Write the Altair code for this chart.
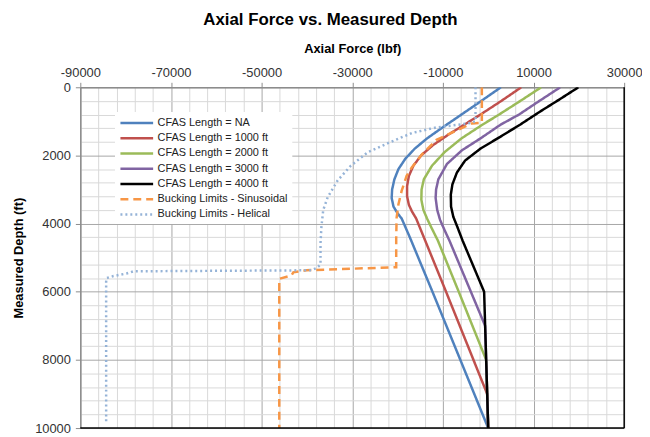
import altair as alt
import pandas as pd

SERIES = ["CFAS Length = NA", "CFAS Length = 1000 ft", "CFAS Length = 2000 ft",
          "CFAS Length = 3000 ft", "CFAS Length = 4000 ft",
          "Bucking Limits - Sinusoidal", "Bucking Limits - Helical"]
COLORS = ["#4F81BD", "#C0504D", "#9BBB59", "#8064A2", "#000000", "#F79646", "#95B3D7"]
DASHES = [[1, 0], [1, 0], [1, 0], [1, 0], [1, 0], [8, 5], [2, 3]]

# CFAS Length = NA
na_depth = [0, 500, 900, 1200, 1500, 1800, 2100, 2400, 2700, 3000, 3250, 3500, 3700, 3850, 4400, 6000, 8000, 10000]
na_force = [2800, -2600, -7000, -10300, -13500, -16200, -18300, -19800, -20700, -21200, -21300, -20900, -20000, -19100, -17300, -12300, -6150, 0]
# CFAS Length = 1000 ft
c1_depth = [0, 400, 800, 1100, 1400, 1700, 2000, 2300, 2600, 2900, 3200, 3450, 3650, 3850, 4500, 6000, 9000, 10000]
c1_force = [7300, 2900, -1700, -5300, -8900, -12200, -14800, -16500, -17500, -17900, -17900, -17500, -16800, -15900, -13900, -9300, -225, 0]
# CFAS Length = 2000 ft
c2_depth = [0, 400, 800, 1100, 1500, 1900, 2300, 2700, 3000, 3300, 3600, 3850, 4100, 4500, 6000, 8000, 10000]
c2_force = [11700, 7100, 2400, -1300, -5900, -9600, -12400, -14200, -14700, -14750, -14300, -13500, -12600, -11100, -6500, -450, 0]
# CFAS Length = 3000 ft
c3_depth = [0, 400, 800, 1100, 1500, 1850, 2250, 2700, 3000, 3250, 3600, 3900, 4200, 4500, 7000, 10000]
c3_force = [15900, 11300, 6800, 2700, -1700, -5800, -9100, -11000, -11500, -11600, -11250, -10600, -9600, -8550, -675, 0]
# CFAS Length = 4000 ft
c4_depth = [0, 350, 700, 1100, 1450, 1800, 2150, 2500, 2850, 3150, 3500, 3800, 4100, 4500, 6000, 10000]
c4_force = [19900, 15800, 11600, 7000, 2700, -1700, -5100, -6900, -7900, -8250, -8200, -7700, -6800, -5650, -900, 0]
# Bucking Limits - Sinusoidal
sin_depth = [0, 1040, 1060, 1250, 1540, 1980, 2360, 2600, 3040, 3430, 3820, 4400, 5280, 5370, 5430, 5520, 5620, 10000]
sin_force = [-1400, -1400, -3600, -6700, -11400, -14700, -16900, -18000, -19100, -19800, -20200, -20300, -20300, -40100, -43000, -43400, -46100, -46100]
# Bucking Limits - Helical
hel_depth = [0, 1000, 1050, 1090, 1180, 1340, 1620, 1910, 2300, 2730, 3220, 3600, 4090, 4570, 5200, 5300, 5370, 5400, 5465, 5540, 5600, 5700, 9850]
hel_force = [-2800, -2800, -4000, -6000, -11500, -16800, -21800, -26600, -30300, -33200, -35400, -36400, -36800, -37000, -37000, -37800, -39000, -78300, -79800, -82700, -84200, -84300, -84300]

X_MIN, X_MAX = -90000, 30000
Y_MIN, Y_MAX = 0, 10000
X_TICKS = list(range(X_MIN, X_MAX + 1, 4000))
Y_TICKS = list(range(Y_MIN, Y_MAX + 1, 400))

series_data = [
    (SERIES[0], na_depth, na_force),
    (SERIES[1], c1_depth, c1_force),
    (SERIES[2], c2_depth, c2_force),
    (SERIES[3], c3_depth, c3_force),
    (SERIES[4], c4_depth, c4_force),
    (SERIES[5], sin_depth, sin_force),
    (SERIES[6], hel_depth, hel_force),
]
rows = []
for name, ds, fs in series_data:
    for i, (d, f) in enumerate(zip(ds, fs)):
        rows.append({"series": name, "depth": d, "force": f, "idx": i})
df = pd.DataFrame(rows)

x_major = "(datum.value + 90000) % 20000 == 0"
y_major = "datum.value % 2000 == 0"

x_axis = alt.Axis(
    orient="top", title="Axial Force (lbf)", values=X_TICKS, tickCount=len(X_TICKS),
    labelExpr=f"{x_major} ? '' + datum.value : ''",
    labelFlush=False, labelOverlap=False, labelBound=False,
    labelFont="Liberation Sans", labelFontSize=13, labelColor="#333333", labelPadding=3,
    titleFont="Liberation Sans", titleFontSize=13, titleFontWeight="bold", titleColor="#000000",
    titlePadding=11,
    domainColor="#8c8c8c", domainWidth=1.5,
    tickColor="#8c8c8c",
    tickSize={"condition": {"test": x_major, "value": 5}, "value": 0},
    gridColor={"condition": {"test": x_major, "value": "#a6a6a6"}, "value": "#d9d9d9"},
    gridWidth=1,
)
y_axis = alt.Axis(
    orient="left", title="Measured Depth (ft)", values=Y_TICKS, tickCount=len(Y_TICKS),
    labelExpr=f"{y_major} ? '' + datum.value : ''",
    labelOverlap=False, labelFlush=False, labelBound=False,
    labelFont="Liberation Sans", labelFontSize=13, labelColor="#333333", labelPadding=5,
    titleFont="Liberation Sans", titleFontSize=13, titleFontWeight="bold", titleColor="#000000",
    titlePadding=9,
    domainColor="#8c8c8c", domainWidth=1.5,
    tickColor="#8c8c8c",
    tickSize={"condition": {"test": y_major, "value": 5}, "value": 0},
    gridColor={"condition": {"test": y_major, "value": "#a6a6a6"}, "value": "#d9d9d9"},
    gridWidth=1,
)

lines = alt.Chart(df).mark_line(strokeWidth=2.5, clip=True).encode(
    x=alt.X("force:Q", scale=alt.Scale(domain=[X_MIN, X_MAX], nice=False, zero=False), axis=x_axis),
    y=alt.Y("depth:Q", scale=alt.Scale(domain=[Y_MIN, Y_MAX], nice=False, reverse=True), axis=y_axis),
    color=alt.Color("series:N", scale=alt.Scale(domain=SERIES, range=COLORS),
                    legend=alt.Legend(title=None, orient="none", legendX=35, legendY=25,
                                      fillColor="white", padding=4,
                                      labelFont="Liberation Sans", labelFontSize=11,
                                      labelColor="#222222",
                                      symbolType="M-1,0H5", symbolSize=121,
                                      symbolStrokeWidth=2.5, rowPadding=3.4, labelOffset=25)),
    strokeDash=alt.StrokeDash("series:N", scale=alt.Scale(domain=SERIES, range=DASHES), legend=None),
    order=alt.Order("idx:Q"),
)

border = pd.DataFrame({"fx": [X_MAX], "fy": [Y_MAX]})
right_rule = alt.Chart(border).mark_rule(color="black", strokeWidth=1.5).encode(x="fx:Q")
bottom_rule = alt.Chart(border).mark_rule(color="black", strokeWidth=1.5).encode(y="fy:Q")

chart = alt.layer(lines, right_rule, bottom_rule).properties(
    width=549, height=344,
    autosize=alt.AutoSizeParams(type="none"),
    padding={"left": 73, "top": 78, "right": 18, "bottom": 7},
    title=alt.TitleParams("Axial Force vs. Measured Depth", font="Liberation Sans",
                          fontSize=17, fontWeight="bold", color="#000000",
                          anchor="middle", dx=-22, offset=14),
).configure_view(stroke=None)

chart.save("out.html", embed_options={"renderer": "svg", "actions": False})
